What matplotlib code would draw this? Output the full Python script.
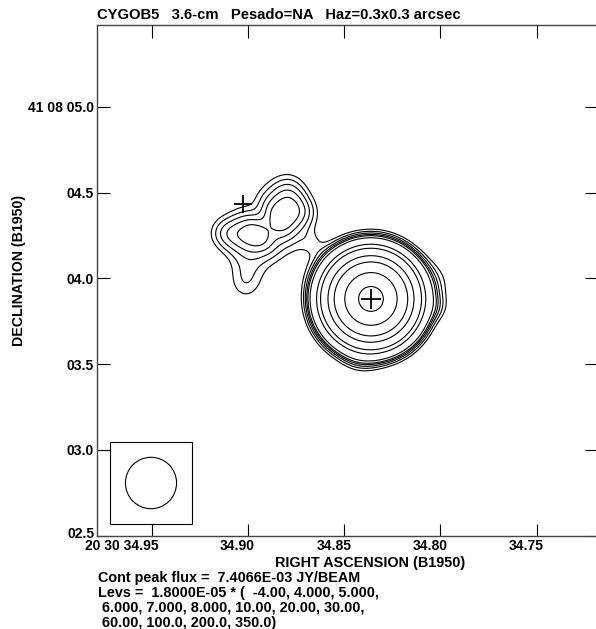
import numpy as np
import matplotlib
matplotlib.use("Agg")
import matplotlib.pyplot as plt
from matplotlib.patches import Rectangle, Ellipse
from matplotlib.transforms import ScaledTranslation

plt.rcParams["font.family"] = ["Liberation Sans", "DejaVu Sans"]
plt.rcParams["font.weight"] = "bold"

# map frame: RA seconds past 20h30m, Dec arcsec past 41d08m (B1950)
ra_lim = (34.9784, 34.7187)
dec_lim = (2.5, 5.478)
dec0 = 41 + 8 / 60 + 4 / 3600
ra_ticks = [34.95, 34.90, 34.85, 34.80, 34.75]
ra_labels = ["20 30 34.95", "34.90", "34.85", "34.80", "34.75"]
dec_ticks = [2.5, 3.0, 3.5, 4.0, 4.5, 5.0]
dec_labels = ["02.5", "03.0", "03.5", "04.0", "04.5", "41 08 05.0"]

rms = 1.8e-5
lev_mult = [-4, 4, 5, 6, 7, 8, 10, 20, 30, 60, 100, 200, 350]

# gaussian components (peak in units of rms, sizes in arcsec)
# main: core, halo, three halo bumps
main_ra = [34.8361, 34.8361, 34.7980, 34.8007, 34.8423]
main_dec = [3.880, 3.880, 4.000, 3.826, 3.515]
main_peak = [405.0, 6.0, 1.8, 1.5, 1.2]
main_smaj = [0.127, 0.25, 0.11, 0.06, 0.08]
main_smin = [0.127, 0.25, 0.09, 0.06, 0.08]
main_pa = [0, 0, 90, 0, 0]
# companion: west lobe, east lobe, base, dip, W/E/N wings, tail, bridge
comp_ra = [34.8994, 34.8828, 34.8911, 34.8911, 34.9135, 34.8703, 34.8771, 34.9015, 34.8667]
comp_dec = [4.2532, 4.3932, 4.3291, 4.3232, 4.2649, 4.3874, 4.5274, 3.9732, 4.2065]
comp_peak = [5.0, 5.0, 2.5, -1.9, 2.2, 2.6, 1.6, 4.2, 1.3]
comp_smaj = [0.15, 0.17, 0.20, 0.117, 0.08, 0.08, 0.08, 0.115, 0.05]
comp_smin = [0.11, 0.12, 0.20, 0.047, 0.08, 0.08, 0.08, 0.10, 0.05]
comp_pa = [0, 80, 0, 125, 0, 0, 0, 90, 0]

# marked positions
cross_ra = [34.9026, 34.8361]
cross_dec = [4.434, 3.880]
cross_ms = [13, 14]

# restoring beam and its box
beam_maj = 0.3
beam_min = 0.3
beam_box_ra = (34.9716, 34.9291)
beam_box_dec = (2.567, 3.0455)

title = "CYGOB5   3.6-cm   Pesado=NA   Haz=0.3x0.3 arcsec"
foot_lines = [
    "Cont peak flux =  7.4066E-03 JY/BEAM",
    "Levs =  1.8000E-05 * (  -4.00, 4.000, 5.000,",
    " 6.000, 7.000, 8.000, 10.00, 20.00, 30.00,",
    " 60.00, 100.0, 200.0, 350.0)",
]

K = 15 * np.cos(np.radians(dec0))

ra = np.linspace(ra_lim[0], ra_lim[1], 700)
dec = np.linspace(dec_lim[0], dec_lim[1], 700)
RA, DEC = np.meshgrid(ra, dec)
img = np.zeros_like(RA)
for r0, d0, a, sj, sn, pa in zip(main_ra + comp_ra, main_dec + comp_dec,
                                 main_peak + comp_peak, main_smaj + comp_smaj,
                                 main_smin + comp_smin, main_pa + comp_pa):
    dx = (r0 - RA) * K
    dy = DEC - d0
    t = np.radians(pa)
    u = dx * np.cos(t) + dy * np.sin(t)
    v = -dx * np.sin(t) + dy * np.cos(t)
    img += a * np.exp(-0.5 * ((u / sj) ** 2 + (v / sn) ** 2))
img *= rms

fig = plt.figure(figsize=(5.96, 6.29), dpi=100)
ax = fig.add_axes([97 / 596, 93.5 / 629, 500 / 596, 510.5 / 629])

ax.contour(RA, DEC, img, levels=[rms * m for m in lev_mult], colors="black",
           linewidths=0.8, linestyles=["dashed"] + ["solid"] * (len(lev_mult) - 1))

for r0, d0, ms in zip(cross_ra, cross_dec, cross_ms):
    ax.plot(r0, d0, marker="+", color="black", ms=ms, mew=1.3)

ax.add_patch(Rectangle((beam_box_ra[0], beam_box_dec[0]),
                       beam_box_ra[1] - beam_box_ra[0], beam_box_dec[1] - beam_box_dec[0],
                       fill=False, edgecolor="black", lw=0.8))
ax.add_patch(Ellipse(((beam_box_ra[0] + beam_box_ra[1]) / 2, (beam_box_dec[0] + beam_box_dec[1]) / 2),
                     beam_min / K, beam_maj, fill=False, edgecolor="black", lw=0.8))

ax.set_xlim(ra_lim)
ax.set_ylim(dec_lim)
ax.set_xticks(ra_ticks)
ax.set_xticklabels(ra_labels)
ax.set_yticks(dec_ticks)
ax.set_yticklabels(dec_labels)
ax.tick_params(direction="in", length=9, width=0.8, top=True, right=True,
               labelsize=10, pad=2, color="black")
for lab in ax.get_xticklabels():
    lab.set_horizontalalignment("right")
    lab.set_transform(lab.get_transform() + ScaledTranslation(7 / 100, -1 / 100, fig.dpi_scale_trans))
ylab0 = ax.get_yticklabels()[0]
ylab0.set_transform(ylab0.get_transform() + ScaledTranslation(0, 3 / 100, fig.dpi_scale_trans))
for sp in ax.spines.values():
    sp.set_color("#444444")
    sp.set_linewidth(1.0)

fig.text(97 / 596, 1 - 19 / 629, title, fontsize=10.6, ha="left", va="baseline")
fig.text(370 / 596, 1 - 567 / 629, "RIGHT ASCENSION (B1950)", fontsize=10.4,
         ha="center", va="baseline")
fig.text(19 / 596, 1 - 270 / 629, "DECLINATION (B1950)", fontsize=10.2,
         rotation=90, ha="center", va="center")
for i, line in enumerate(foot_lines):
    fig.text(98 / 596, 1 - (582 + 15 * i) / 629, line, fontsize=10.4, ha="left", va="baseline")

fig.savefig("out.png", dpi=100)
